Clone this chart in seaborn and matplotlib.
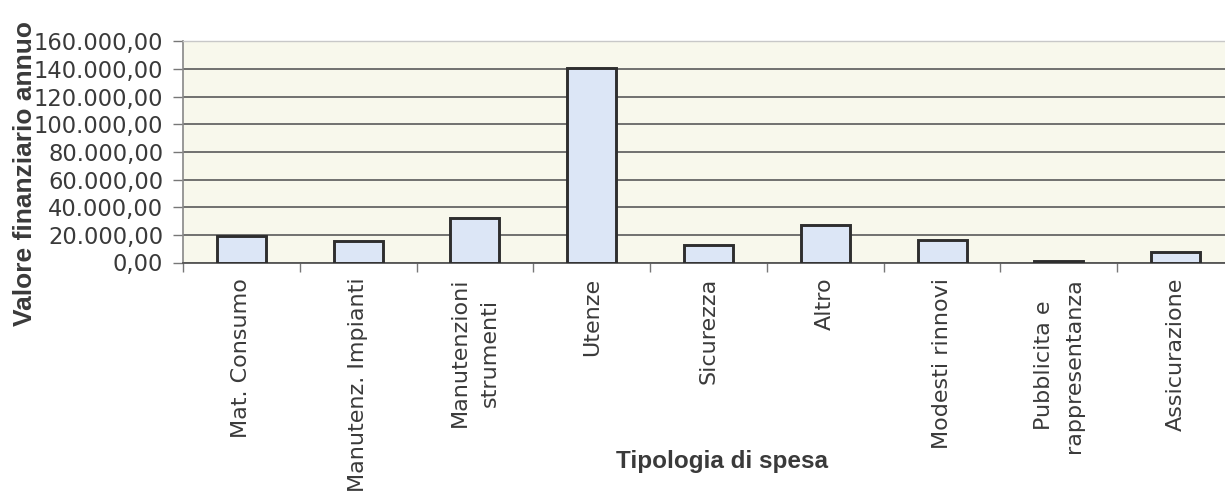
import matplotlib
matplotlib.use("Agg")
import matplotlib.pyplot as plt
import seaborn as sns
import numpy as np

categories = ["Mat. Consumo", "Manutenz. Impianti", "Manutenzioni\nstrumenti", "Utenze",
              "Sicurezza", "Altro", "Modesti rinnovi", "Pubblicita e\nrappresentanza",
              "Assicurazione"]
values = [19000, 15500, 32000, 140500, 13000, 27500, 16500, 1000, 7500]
y_ticks = [0, 20000, 40000, 60000, 80000, 100000, 120000, 140000, 160000]

sns.set_style("white")
plt.rcParams['font.family'] = ['DejaVu Sans']

W, H = 1225, 498
fig = plt.figure(figsize=(W / 100, H / 100), dpi=100)
fig.patch.set_facecolor("white")
left_px, right_px, top_px, bot_px = 183, 1234, 41.5, 262.5
ax = fig.add_axes([left_px / W, (H - bot_px) / H, (right_px - left_px) / W, (bot_px - top_px) / H])
ax.set_facecolor("#f8f8ec")

sns.barplot(x=categories, y=values, color="#dce6f6", width=0.42,
            edgecolor="#2e2e2e", linewidth=2.1, saturation=1, ax=ax, zorder=3)

ax.set_xlim(-0.5, len(categories) - 0.5)
ax.set_ylim(0, 160000)
ax.set_yticks(y_ticks)

def fmt(v):
    s = f"{v:,.2f}"
    return s.replace(",", "X").replace(".", ",").replace("X", ".")

ax.set_yticklabels([fmt(v) for v in y_ticks], fontsize=16.3, color="#3a3a3a")
ax.tick_params(axis="y", direction="out", length=7.2, width=1, color="#777777", pad=7, left=True)

# x ticks: labels at centres, marks at boundaries
ax.set_xticks(np.arange(len(categories)))
ax.set_xticklabels(categories, rotation=90, fontsize=16, color="#3a3a3a", va="top", ha="center",
                   linespacing=1.6)
for lbl in ax.get_xticklabels():
    lbl.set_multialignment("center")
ax.set_xticks(np.arange(len(categories) + 1) - 0.5, minor=True)
ax.tick_params(axis="x", which="major", length=0, pad=11)
ax.tick_params(axis="x", which="minor", direction="out", length=6.5, width=1, color="#777777", bottom=True)

ax.yaxis.grid(True, color="#4d4d4d", linewidth=1.1)
ax.set_axisbelow(True)

ax.spines["right"].set_visible(False)
ax.spines["top"].set_color("#c8c8c8")
ax.spines["top"].set_linewidth(1)
ax.spines["left"].set_color("#888888")
ax.spines["left"].set_linewidth(1.2)
ax.spines["bottom"].set_color("#555555")
ax.spines["bottom"].set_linewidth(1.3)

ax.set_ylabel("Valore finanziario annuo", fontsize=19, fontweight="bold", color="#3a3a3a",
              family=["Liberation Sans", "DejaVu Sans"])
ax.yaxis.set_label_coords((37 - left_px) / (right_px - left_px), (bot_px - 173) / (bot_px - top_px))
ax.set_xlabel("Tipologia di spesa", fontsize=17.5, fontweight="bold", color="#3a3a3a",
              family=["Liberation Sans", "DejaVu Sans"])
ax.xaxis.set_label_coords((722 - left_px) / (right_px - left_px), (bot_px - 450) / (bot_px - top_px))

fig.canvas.draw()
ax.yaxis.get_gridlines()[-1].set_visible(False)

fig.savefig("out.png", dpi=100, facecolor="white")
